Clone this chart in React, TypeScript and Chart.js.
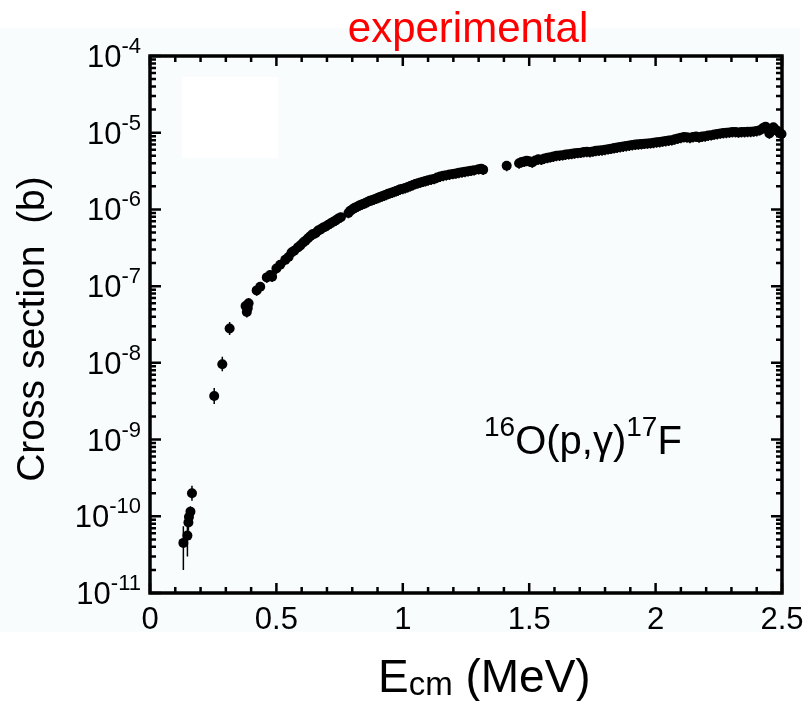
import React, { useEffect, useRef } from "react";
import { Chart, registerables } from "chart.js";

Chart.register(...registerables);

// ---- Data ----
// Low-energy points with explicit error bars (b)
const lowEnergy = [0.132, 0.148, 0.152, 0.154, 0.160, 0.166, 0.254, 0.286, 0.315, 0.378, 0.383, 0.387, 0.390];
const lowSigma = [4.5e-11, 5.6e-11, 8.3e-11, 9.8e-11, 1.15e-10, 2.0e-10, 3.7e-9, 9.6e-9, 2.8e-8, 5.5e-8, 4.6e-8, 5.2e-8, 6.0e-8];
const lowErrLow = [2.0e-11, 3.0e-11, 6.5e-11, 8.0e-11, 9.5e-11, 1.6e-10, 2.9e-9, 7.8e-9, 2.3e-8, 4.6e-8, 3.9e-8, 4.4e-8, 5.1e-8];
const lowErrHigh = [7.4e-11, 8.0e-11, 1.05e-10, 1.2e-10, 1.35e-10, 2.5e-10, 4.7e-9, 1.2e-8, 3.4e-8, 6.5e-8, 5.4e-8, 6.1e-8, 7.0e-8];

// Main data set (b)
const mainEnergy = [
  0.422, 0.436, 0.462, 0.475, 0.483, 0.500, 0.515, 0.535, 0.548, 0.560, 0.570, 0.585, 0.595, 0.606, 0.615,
  0.625, 0.635, 0.645, 0.655, 0.665, 0.675, 0.685, 0.695, 0.705, 0.715, 0.725, 0.735, 0.745, 0.755,
  0.785, 0.792, 0.800, 0.808, 0.815, 0.823, 0.830, 0.838, 0.846, 0.854, 0.862, 0.870, 0.878, 0.886, 0.894,
  0.902, 0.910, 0.918, 0.926, 0.934, 0.942, 0.950, 0.958, 0.966, 0.974, 0.982, 0.990, 1.000, 1.010, 1.020,
  1.030, 1.040, 1.050, 1.060, 1.070, 1.080, 1.090, 1.100, 1.112, 1.124, 1.136, 1.148, 1.160, 1.172, 1.185,
  1.198, 1.210, 1.222, 1.234, 1.246, 1.258, 1.270, 1.282, 1.300, 1.310, 1.318,
  1.411,
  1.460, 1.470, 1.480, 1.490, 1.500, 1.512, 1.524, 1.536, 1.548, 1.560, 1.572, 1.584, 1.596, 1.608, 1.620,
  1.632, 1.644, 1.656, 1.668, 1.680, 1.692, 1.704, 1.716, 1.728, 1.740, 1.752, 1.764, 1.776, 1.788, 1.800,
  1.812, 1.824, 1.836, 1.848, 1.860, 1.872, 1.884, 1.896, 1.908, 1.920, 1.932, 1.944, 1.956, 1.968, 1.980,
  1.992, 2.004, 2.016, 2.028, 2.040, 2.052, 2.064, 2.076, 2.088, 2.100, 2.112, 2.124, 2.136, 2.148, 2.160,
  2.172, 2.184, 2.196, 2.208, 2.220, 2.232, 2.244, 2.256, 2.268, 2.280, 2.292, 2.304, 2.316, 2.328, 2.340,
  2.352, 2.364, 2.376, 2.388, 2.400, 2.412, 2.425, 2.435, 2.442, 2.450, 2.458, 2.466, 2.474, 2.482, 2.490, 2.498,
];
const mainSigma = [
  8.8e-8, 9.8e-8, 1.3e-7, 1.4e-7, 1.33e-7, 1.7e-7, 1.9e-7, 2.2e-7, 2.4e-7, 2.75e-7, 2.9e-7, 3.2e-7, 3.4e-7, 3.7e-7, 3.9e-7,
  4.2e-7, 4.5e-7, 4.8e-7, 4.9e-7, 5.3e-7, 5.5e-7, 5.8e-7, 6.0e-7, 6.3e-7, 6.6e-7, 6.9e-7, 7.2e-7, 7.6e-7, 7.9e-7,
  9.0e-7, 9.6e-7, 1.0e-6, 1.04e-6, 1.07e-6, 1.1e-6, 1.13e-6, 1.16e-6, 1.19e-6, 1.22e-6, 1.26e-6, 1.3e-6, 1.32e-6, 1.35e-6, 1.38e-6,
  1.42e-6, 1.45e-6, 1.48e-6, 1.52e-6, 1.55e-6, 1.6e-6, 1.63e-6, 1.66e-6, 1.7e-6, 1.74e-6, 1.78e-6, 1.83e-6, 1.86e-6, 1.9e-6, 1.96e-6,
  2.02e-6, 2.08e-6, 2.15e-6, 2.2e-6, 2.25e-6, 2.3e-6, 2.35e-6, 2.4e-6, 2.45e-6, 2.5e-6, 2.6e-6, 2.68e-6, 2.75e-6, 2.8e-6, 2.85e-6,
  2.9e-6, 2.95e-6, 3.0e-6, 3.05e-6, 3.1e-6, 3.15e-6, 3.2e-6, 3.25e-6, 3.35e-6, 3.4e-6, 3.3e-6,
  3.7e-6,
  4.0e-6, 4.15e-6, 4.2e-6, 4.3e-6, 4.25e-6, 4.1e-6, 4.35e-6, 4.5e-6, 4.45e-6, 4.6e-6, 4.7e-6, 4.8e-6, 4.9e-6, 5.0e-6, 5.05e-6,
  5.1e-6, 5.2e-6, 5.25e-6, 5.3e-6, 5.4e-6, 5.45e-6, 5.5e-6, 5.6e-6, 5.65e-6, 5.6e-6, 5.7e-6, 5.8e-6, 5.85e-6, 5.9e-6, 6.0e-6,
  6.1e-6, 6.2e-6, 6.3e-6, 6.4e-6, 6.5e-6, 6.6e-6, 6.7e-6, 6.8e-6, 6.9e-6, 7.0e-6, 7.05e-6, 7.1e-6, 7.2e-6, 7.25e-6, 7.3e-6,
  7.4e-6, 7.5e-6, 7.55e-6, 7.7e-6, 7.8e-6, 7.9e-6, 8.0e-6, 8.2e-6, 8.4e-6, 8.6e-6, 8.8e-6, 8.7e-6, 8.6e-6, 8.8e-6, 8.9e-6,
  8.7e-6, 8.9e-6, 9.0e-6, 9.2e-6, 9.3e-6, 9.5e-6, 9.6e-6, 9.8e-6, 9.9e-6, 1.0e-5, 1.01e-5, 1.02e-5, 1.02e-5, 1.01e-5, 1.02e-5,
  1.02e-5, 1.03e-5, 1.03e-5, 1.04e-5, 1.05e-5, 1.08e-5, 1.15e-5, 1.2e-5, 1.1e-5, 9.8e-6, 1.12e-5, 1.18e-5, 1.1e-5, 1.05e-5, 1.0e-5, 9.6e-6,
];
const mainRelError = 0.15;

// ---- Axes ----
const xMin = 0;
const xMax = 2.5;
const xMajorTicks = [0, 0.5, 1, 1.5, 2, 2.5];
const xTickLabels = ["0", "0.5", "1", "1.5", "2", "2.5"];
const xMinorTicks = [0.1, 0.2, 0.3, 0.4, 0.6, 0.7, 0.8, 0.9, 1.1, 1.2, 1.3, 1.4, 1.6, 1.7, 1.8, 1.9, 2.1, 2.2, 2.3, 2.4];
const yExponents = [-11, -10, -9, -8, -7, -6, -5, -4];
const yMinorMultipliers = [2, 3, 4, 5, 6, 7, 8, 9];

const titleText = "experimental";
const xTitleMain = "E";
const xTitleSub = "cm";
const xTitleUnit = " (MeV)";
const yTitleText = "Cross section  (b)";
const reactionParts = [
  { t: "16", sup: true },
  { t: "O(p,\u03b3)", sup: false },
  { t: "17", sup: true },
  { t: "F", sup: false },
];

const FONT = "'Liberation Sans', Arial, Helvetica, sans-serif";

const framePlugin = {
  id: "framePlugin",
  beforeDraw(chart: any) {
    const ctx = chart.ctx;
    ctx.save();
    ctx.fillStyle = "#ffffff";
    ctx.fillRect(0, 0, chart.width, chart.height);
    ctx.fillStyle = "#f8fcfd";
    ctx.fillRect(0, 28, 800, 604);
    ctx.fillStyle = "#ffffff";
    ctx.fillRect(182, 77, 96, 81);
    ctx.restore();
  },
  beforeDatasetsDraw(chart: any) {
    const ctx = chart.ctx;
    const xs = chart.scales.x;
    const ys = chart.scales.y;
    ctx.save();
    ctx.strokeStyle = "#000";
    ctx.lineWidth = 1.5;
    ctx.beginPath();
    lowEnergy.forEach((e, i) => {
      const px = xs.getPixelForValue(e);
      ctx.moveTo(px, ys.getPixelForValue(lowErrLow[i]));
      ctx.lineTo(px, ys.getPixelForValue(lowErrHigh[i]));
    });
    mainEnergy.forEach((e, i) => {
      const px = xs.getPixelForValue(e);
      ctx.moveTo(px, ys.getPixelForValue(mainSigma[i] * (1 - mainRelError)));
      ctx.lineTo(px, ys.getPixelForValue(mainSigma[i] * (1 + mainRelError * 0.6)));
    });
    ctx.stroke();
    ctx.restore();
  },
  afterDraw(chart: any) {
    const ctx = chart.ctx;
    const xs = chart.scales.x;
    const ys = chart.scales.y;
    const { left, right, top, bottom } = chart.chartArea;
    ctx.save();
    ctx.strokeStyle = "#000";
    ctx.lineCap = "butt";

    // ticks
    ctx.lineWidth = 2.5;
    ctx.beginPath();
    xMajorTicks.forEach((v) => {
      const px = xs.getPixelForValue(v);
      ctx.moveTo(px, bottom);
      ctx.lineTo(px, bottom - 10);
      ctx.moveTo(px, top);
      ctx.lineTo(px, top + 10);
    });
    xMinorTicks.forEach((v) => {
      const px = xs.getPixelForValue(v);
      ctx.moveTo(px, bottom);
      ctx.lineTo(px, bottom - 6);
      ctx.moveTo(px, top);
      ctx.lineTo(px, top + 6);
    });
    yExponents.forEach((ex) => {
      const py = ys.getPixelForValue(Math.pow(10, ex));
      ctx.moveTo(left, py);
      ctx.lineTo(left + 11, py);
      ctx.moveTo(right, py);
      ctx.lineTo(right - 11, py);
      if (ex < -4) {
        yMinorMultipliers.forEach((m) => {
          const pm = ys.getPixelForValue(m * Math.pow(10, ex));
          ctx.moveTo(left, pm);
          ctx.lineTo(left + 6, pm);
          ctx.moveTo(right, pm);
          ctx.lineTo(right - 6, pm);
        });
      }
    });
    ctx.stroke();

    // frame
    ctx.lineWidth = 3.5;
    ctx.strokeRect(left, top, right - left, bottom - top);

    // x tick labels
    ctx.fillStyle = "#000";
    ctx.font = `31px ${FONT}`;
    ctx.textAlign = "center";
    ctx.textBaseline = "alphabetic";
    xMajorTicks.forEach((v, i) => {
      ctx.fillText(xTickLabels[i], xs.getPixelForValue(v), bottom + 36);
    });

    // y tick labels with superscript exponent
    yExponents.forEach((ex) => {
      const py = ys.getPixelForValue(Math.pow(10, ex));
      const sup = String(ex);
      ctx.font = `22px ${FONT}`;
      const supW = ctx.measureText(sup).width;
      const rightEdge = left - 9;
      ctx.textAlign = "left";
      ctx.fillText(sup, rightEdge - supW, py - 3);
      ctx.font = `31px ${FONT}`;
      ctx.textAlign = "right";
      ctx.fillText("10", rightEdge - supW, py + 11);
    });

    // title
    ctx.fillStyle = "#ff0000";
    ctx.font = `42px ${FONT}`;
    ctx.textAlign = "center";
    ctx.fillText(titleText, 468, 42);

    // x title
    ctx.fillStyle = "#000";
    ctx.textAlign = "left";
    let x = 378;
    ctx.font = `46px ${FONT}`;
    ctx.fillText(xTitleMain, x, 692);
    x += ctx.measureText(xTitleMain).width;
    ctx.font = `33px ${FONT}`;
    ctx.fillText(xTitleSub, x, 695);
    x += ctx.measureText(xTitleSub).width;
    ctx.font = `46px ${FONT}`;
    ctx.fillText(xTitleUnit, x, 692);

    // y title
    ctx.save();
    ctx.translate(44, 329);
    ctx.rotate(-Math.PI / 2);
    ctx.font = `39px ${FONT}`;
    ctx.textAlign = "center";
    ctx.fillText(yTitleText, 0, 0);
    ctx.restore();

    // reaction label
    let rx = 484;
    reactionParts.forEach((p) => {
      ctx.font = p.sup ? `28px ${FONT}` : `40px ${FONT}`;
      ctx.textAlign = "left";
      ctx.fillText(p.t, rx, p.sup ? 436 : 454);
      rx += ctx.measureText(p.t).width;
    });

    ctx.restore();
  },
};

export default function App() {
  const canvasRef = useRef<HTMLCanvasElement | null>(null);

  useEffect(() => {
    const canvas = canvasRef.current;
    if (!canvas) return;
    const chart = new Chart(canvas, {
      type: "scatter",
      data: {
        datasets: [
          {
            label: "low energy",
            data: lowEnergy.map((e, i) => ({ x: e, y: lowSigma[i] })),
            pointRadius: 5,
            pointBackgroundColor: "#000",
            pointBorderWidth: 0,
            clip: false as any,
          },
          {
            label: "main",
            data: mainEnergy.map((e, i) => ({ x: e, y: mainSigma[i] })),
            pointRadius: 5,
            pointBackgroundColor: "#000",
            pointBorderWidth: 0,
            clip: false as any,
          },
        ],
      },
      options: {
        responsive: false,
        animation: false,
        devicePixelRatio: 1,
        layout: { padding: { left: 150, right: 21, top: 56, bottom: 108 } },
        plugins: { legend: { display: false }, tooltip: { enabled: false } },
        scales: {
          x: { type: "linear", min: xMin, max: xMax, display: false },
          y: { type: "logarithmic", min: 1e-11, max: 1e-4, display: false },
        },
      },
      plugins: [framePlugin],
    });
    return () => chart.destroy();
  }, []);

  return (
    <div style={{ position: "fixed", left: 0, top: 0, width: 803, height: 701 }}>
      <canvas ref={canvasRef} width={803} height={701} style={{ display: "block" }} />
    </div>
  );
}
